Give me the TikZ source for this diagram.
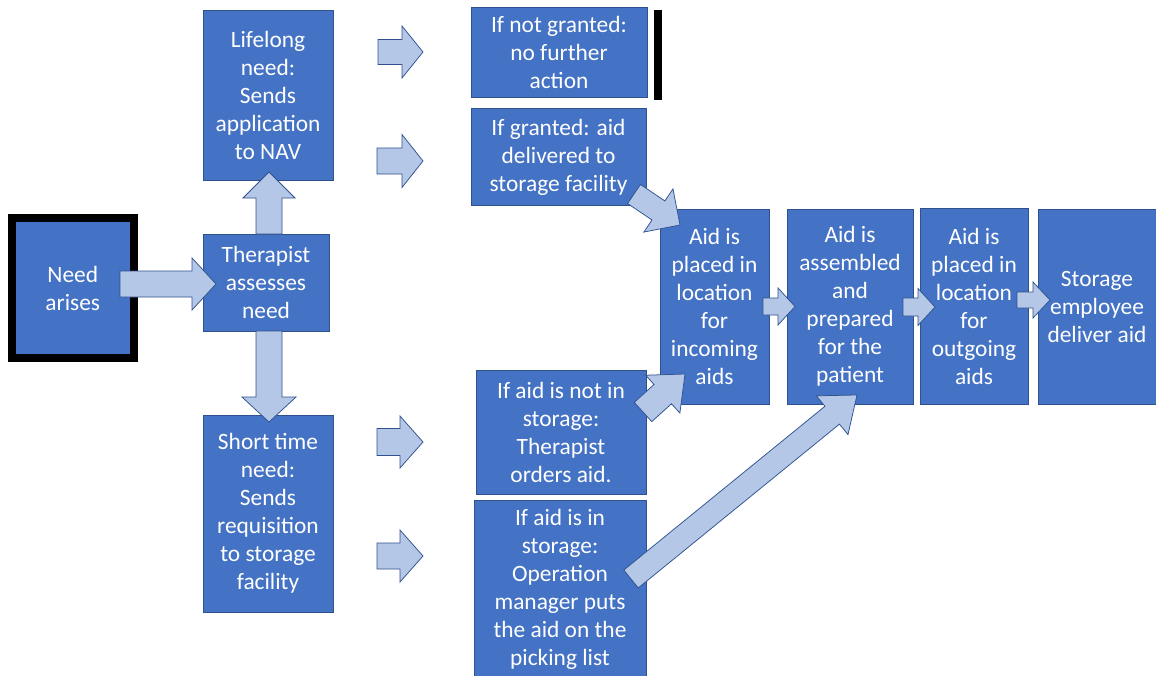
\documentclass[tikz,border=0pt]{standalone}
\usepackage{fontspec}
\setmainfont{Carlito}
\usetikzlibrary{calc}
\definecolor{boxblue}{HTML}{4472C4}
\definecolor{boxline}{HTML}{2F528F}
\definecolor{arrfill}{HTML}{B4C7E7}
\tikzset{
  box/.style={rectangle, fill=boxblue, draw=boxline, line width=0.75pt, text=white,
    align=center, inner sep=0pt, font=\fontsize{23.4}{28}\selectfont},
  arrowshape/.style={fill=arrfill, draw=boxline, line width=0.75pt, line join=miter},
}
% block arrow: #1 tail, #2 tip, #3 shaft half width, #4 head half width, #5 head length
\newcommand\blockarr[5]{%
  \coordinate (hb-#1-#2) at ($(#2)!#5!(#1)$);
  \path[arrowshape]
    ($(#1)!#3!90:(#2)$) -- ($(hb-#1-#2)!#3!90:(#2)$) -- ($(hb-#1-#2)!#4!90:(#2)$) --
    (#2) --
    ($(hb-#1-#2)!#4!-90:(#2)$) -- ($(hb-#1-#2)!#3!-90:(#2)$) -- ($(#1)!#3!-90:(#2)$) -- cycle;
}
\begin{document}
\begin{tikzpicture}[x=1pt,y=-1pt]
\useasboundingbox (0,0) rectangle (1156,675);
\fill[white] (0,0) rectangle (1156,675);

% boxes
\node[box, draw=black, line width=8pt, minimum width=121.5pt, minimum height=140pt] (need) at (72.75,288) {Need\\arises};
\node[box, minimum width=126pt, minimum height=97pt] (ther) at (266,282.5) {Therapist\\assesses\\need};
\node[box, minimum width=130pt, minimum height=170pt] (life) at (268,95) {Lifelong\\need:\\Sends\\application\\to NAV};
\node[box, minimum width=130pt, minimum height=197pt] (short) at (268,513.5) {Short time\\need:\\Sends\\requisition\\to storage\\facility};
\node[box, minimum width=176pt, minimum height=90pt] (notg) at (559,52) {If not granted:\\no further\\action};
\node[rectangle, fill=black, inner sep=0pt, minimum width=8pt, minimum height=90pt] (bar) at (658,55) {};
\node[box, minimum width=175pt, minimum height=97pt] (gran) at (558.5,157) {If granted: aid\\delivered to\\storage facility};
\node[box, minimum width=109pt, minimum height=195pt] (inc) at (714.5,306.5) {Aid is\\placed in\\location\\for\\incoming\\aids};
\node[box, minimum width=126pt, minimum height=195pt] (asm) at (850,306.5) {Aid is\\assembled\\and\\prepared\\for the\\patient};
\node[box, minimum width=108pt, minimum height=196pt] (out) at (974,306) {Aid is\\placed in\\location\\for\\outgoing\\aids};
\node[box, minimum width=118pt, minimum height=195pt] (del) at (1097,306.5) {Storage\\employee\\deliver aid};
\node[box, minimum width=170pt, minimum height=124pt] (notin) at (561,432) {If aid is not in\\storage:\\Therapist\\orders aid.};
\node[box, minimum width=172pt, minimum height=179pt] (instor) at (560,589.5) {If aid is in\\storage:\\Operation\\manager puts\\the aid on the\\picking list};

% arrow end points
\coordinate (a1s) at (120,284);   \coordinate (a1e) at (216,284);
\coordinate (ups) at (269,234);   \coordinate (upe) at (269,172);
\coordinate (dns) at (269,331);   \coordinate (dne) at (269,422);
\coordinate (r1s) at (378,52);    \coordinate (r1e) at (423,52);
\coordinate (r2s) at (377,161);   \coordinate (r2e) at (423,161);
\coordinate (r3s) at (377,442);   \coordinate (r3e) at (423,442);
\coordinate (r4s) at (377,556);   \coordinate (r4e) at (423,556);
\coordinate (d1s) at (634,194);   \coordinate (d1e) at (680,225);
\coordinate (d2s) at (643,412);   \coordinate (d2e) at (685,374);
\coordinate (d3s) at (631,579);   \coordinate (d3e) at (857,395);
\coordinate (h1s) at (763,306.5); \coordinate (h1e) at (795,306.5);
\coordinate (h2s) at (903,307);   \coordinate (h2e) at (935,307);
\coordinate (h3s) at (1017,300);  \coordinate (h3e) at (1050,300);

% block arrows
\blockarr{a1s}{a1e}{13pt}{26pt}{24pt}
\blockarr{ups}{upe}{13pt}{26pt}{26pt}
\blockarr{dns}{dne}{13pt}{27pt}{25pt}
\blockarr{r1s}{r1e}{12.5pt}{26pt}{21pt}
\blockarr{r2s}{r2e}{13pt}{26.5pt}{21pt}
\blockarr{r3s}{r3e}{13.5pt}{26pt}{23pt}
\blockarr{r4s}{r4e}{13pt}{26pt}{23pt}
\blockarr{d1s}{d1e}{11.5pt}{26pt}{26pt}
\blockarr{d2s}{d2e}{13pt}{25.5pt}{30pt}
\blockarr{d3s}{d3e}{11.5pt}{25pt}{32pt}
\blockarr{h1s}{h1e}{8.5pt}{18.5pt}{17pt}
\blockarr{h2s}{h2e}{9pt}{18.5pt}{17pt}
\blockarr{h3s}{h3e}{8pt}{18pt}{17pt}
\end{tikzpicture}
\end{document}
